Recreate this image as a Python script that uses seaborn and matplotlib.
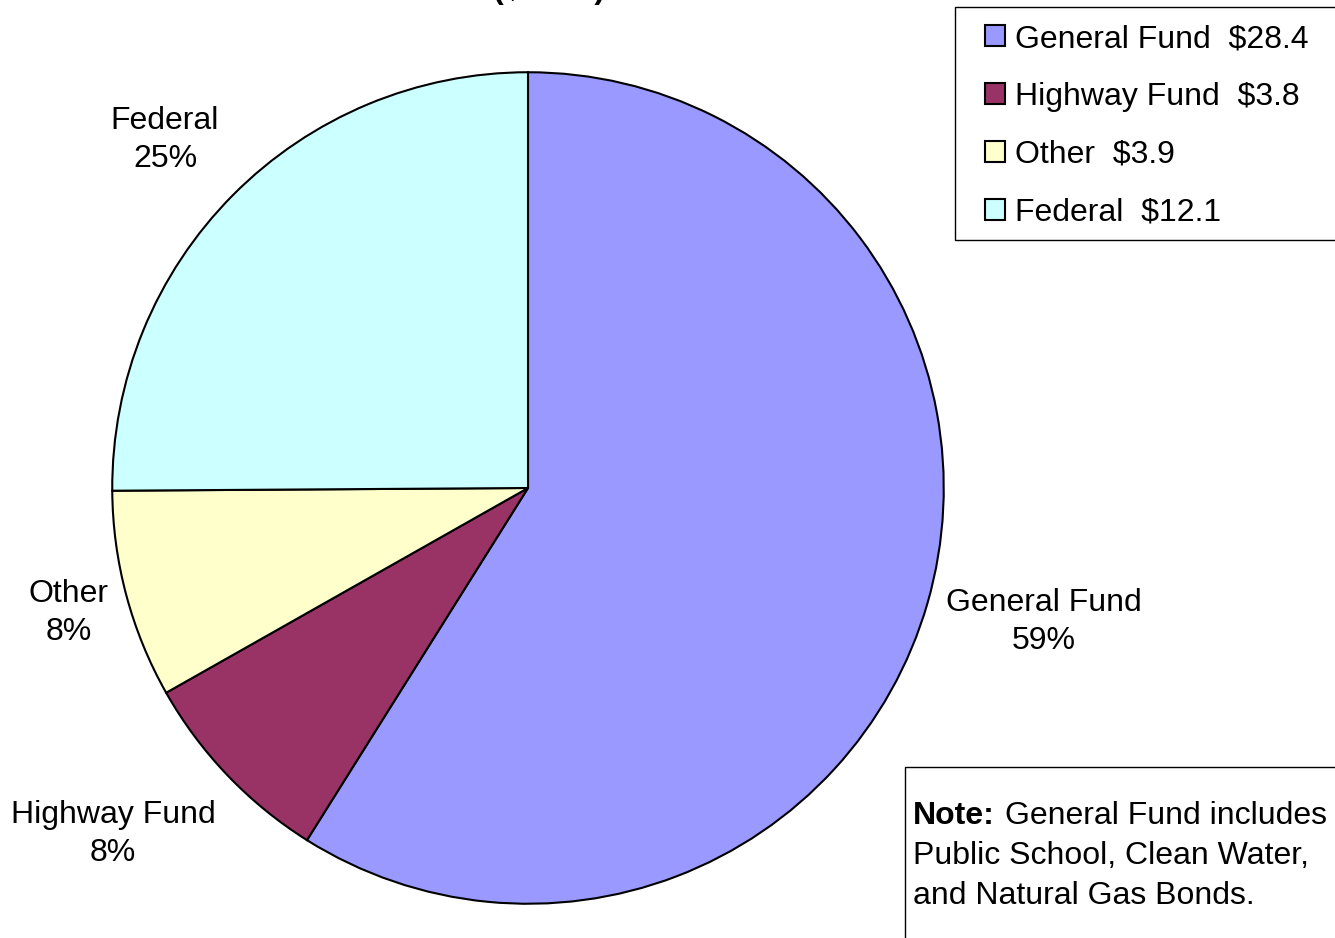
import matplotlib
matplotlib.use("Agg")
import matplotlib.pyplot as plt
import seaborn as sns
from matplotlib.patches import Rectangle

# ---- data ----
categories = ["General Fund", "Highway Fund", "Other", "Federal"]
values = [28.4, 3.8, 3.9, 12.1]
colors = ["#9999FF", "#993366", "#FFFFCC", "#CCFFFF"]
legend_labels = ["General Fund  $28.4", "Highway Fund  $3.8", "Other  $3.9", "Federal  $12.1"]
title_text = "($ in M)"
note_bold = "Note:"
note_rest_first = "General Fund includes"
note_lines = ["Public School, Clean Water,", "and Natural Gas Bonds."]

sns.set_theme(style="white", palette=colors)
plt.rcParams["font.family"] = ["Liberation Sans", "DejaVu Sans"]
plt.rcParams["text.color"] = "black"

FS = 23

W, H = 1335, 938
fig = plt.figure(figsize=(W / 100, H / 100), dpi=100)
fig.patch.set_facecolor("white")

def fx(px):
    return px / W

def fy(py):
    return 1 - py / H

# pie axes: center (528, 488), radius 417 px
cx, cy, r = 528, 488, 417
ax = fig.add_axes([fx(cx - r), fy(cy + r), 2 * r / W, 2 * r / H])
total = sum(values)
wedges, _ = ax.pie(values, colors=sns.color_palette(colors), startangle=90,
                   counterclock=False, radius=1.0,
                   wedgeprops=dict(edgecolor="black", linewidth=1.5))
ax.set_xlim(-1.003, 1.003)
ax.set_ylim(-1.003, 1.003)
ax.set_aspect("equal")
ax.axis("off")

# slice labels
label_pos = [(1044, 622), (113, 834), (69, 613), (165, 140)]
for name, v, (px, py) in zip(categories, values, label_pos):
    pct = round(100 * v / total)
    fig.text(fx(px), fy(py), f"{name}\n{pct}%", ha="center", va="center",
             fontsize=FS, linespacing=1.36, color="black")

# title (cut off at top, as in the reference)
fig.text(fx(549), fy(-2), title_text, ha="center", va="baseline",
         fontsize=FS, fontweight="bold", color="black")

# legend
fig.patches.append(Rectangle((fx(955), fy(240)), fx(400), 233 / H,
                             transform=fig.transFigure, facecolor="white",
                             edgecolor="black", linewidth=1.0, zorder=0))
leg = fig.legend(wedges, legend_labels, loc="upper left",
                 bbox_to_anchor=(fx(985), fy(24)), frameon=False,
                 fontsize=FS, borderpad=0, borderaxespad=0,
                 handlelength=0.63, handleheight=0.63, handletextpad=0.3,
                 labelspacing=0.87)
for t in leg.get_texts():
    t.set_color("black")
for h in leg.legend_handles:
    h.set_linewidth(1.5)
    h.set_edgecolor("black")

# note box
fig.patches.append(Rectangle((fx(905), fy(945)), fx(440), 178 / H,
                             transform=fig.transFigure, facecolor="white",
                             edgecolor="black", linewidth=1.0, zorder=0))
fig.text(fx(913), fy(816), note_bold, ha="left", va="center",
         fontsize=FS, fontweight="bold", color="black")
fig.text(fx(1005), fy(816), note_rest_first, ha="left", va="center",
         fontsize=FS, color="black")
for i, line in enumerate(note_lines):
    fig.text(fx(913), fy(856 + 40 * i), line, ha="left", va="center",
             fontsize=FS, color="black")

fig.savefig("out.png", dpi=100, facecolor="white")
